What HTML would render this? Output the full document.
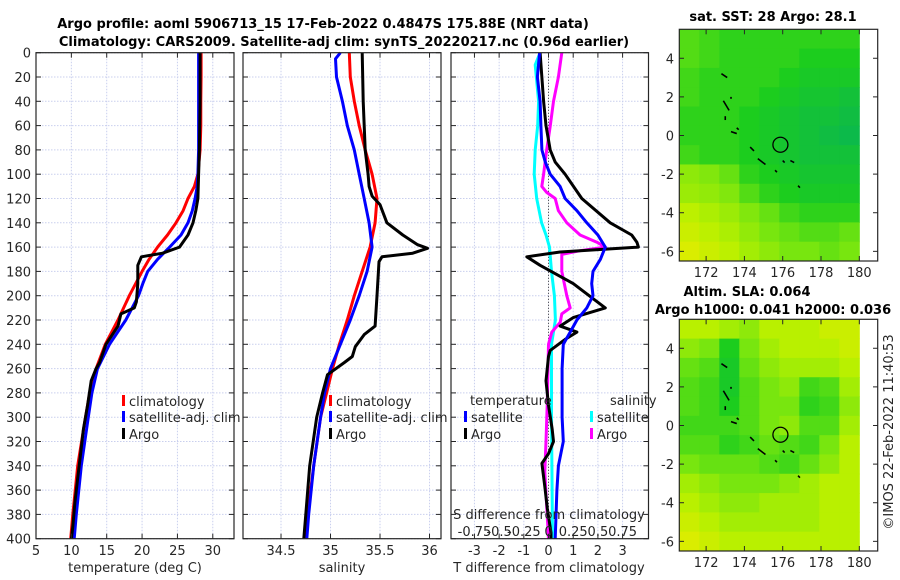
<!DOCTYPE html>
<html><head><meta charset="utf-8"><style>
body{margin:0;background:#fff;}
svg{display:block;font-family:"DejaVu Sans","Liberation Sans",sans-serif;}
text{fill:#262626;font-size:13px;}
.b{font-weight:bold;fill:#000;}
</style></head><body>
<svg id="fig" width="900" height="580" viewBox="0 0 900 580">
<text class="b" x="323" y="28" text-anchor="middle">Argo profile: aoml 5906713_15 17-Feb-2022 0.4847S 175.88E (NRT data)</text>
<text class="b" x="344" y="46" text-anchor="middle">Climatology: CARS2009. Satellite-adj clim: synTS_20220217.nc (0.96d earlier)</text>
<text class="b" x="773" y="21" text-anchor="middle">sat. SST: 28 Argo: 28.1</text>
<text class="b" x="747" y="296" text-anchor="middle">Altim. SLA: 0.064</text>
<text class="b" x="773" y="314" text-anchor="middle">Argo h1000: 0.041 h2000: 0.036</text>
<text x="893" y="432" text-anchor="middle" transform="rotate(-90 893 432)">©IMOS 22-Feb-2022 11:40:53</text>
<g id="plots"></g>
</svg>
<script>
// ---- data ----
const tClimDepth=[0,20,40,60,80,100,110,120,130,140,150,160,170,180,190,200,220,240,260,280,300,340,380,400];
const tClimVal=[28.35,28.35,28.3,28.3,28.2,27.9,27.4,26.5,25.8,24.8,23.6,22.2,21,20,19.1,18.2,16.6,14.8,13.5,12.6,12,10.9,10.2,9.9];
const tSatDepth=[0,20,40,60,80,100,110,120,130,140,150,160,170,180,190,200,220,240,260,280,300,340,380,400];
const tSatVal=[28.0,28.0,28.0,28.0,28.0,27.9,27.8,27.5,27.1,26.5,25.5,23.9,22.2,20.8,20.1,19.5,17.7,15.4,13.7,12.9,12.4,11.4,10.7,10.4];
const tArgoDepth=[0,40,80,100,120,130,140,150,160,165,168,175,190,205,210,215,225,240,255,260,270,290,310,330,350,370,390,400];
const tArgoVal=[28.2,28.2,28.1,28.0,27.9,27.6,27.2,26.5,25.3,22.9,19.9,19.4,19.4,19.2,18.9,17.0,16.6,14.9,14.0,13.5,12.8,12.3,11.7,11.3,10.9,10.5,10.2,10.0];
const sClimDepth=[0,20,40,60,80,100,120,140,160,180,200,220,240,260,280,300,340,380,400];
const sClimVal=[35.19,35.2,35.24,35.29,35.35,35.42,35.47,35.45,35.4,35.32,35.24,35.17,35.09,35.02,34.96,34.9,34.83,34.77,34.75];
const sSatDepth=[0,5,20,40,60,80,100,120,140,160,180,200,220,240,260,280,300,340,380,400];
const sSatVal=[35.1,35.05,35.06,35.12,35.17,35.24,35.29,35.34,35.39,35.42,35.37,35.29,35.2,35.1,35.0,34.94,34.9,34.83,34.78,34.76];
const sArgoDepth=[0,40,80,100,110,118,125,140,150,158,161,165,168,172,200,225,232,242,250,255,265,280,300,340,380,400];
const sArgoVal=[35.32,35.33,35.35,35.38,35.39,35.42,35.5,35.57,35.73,35.88,35.98,35.83,35.52,35.49,35.47,35.45,35.34,35.25,35.22,35.14,34.97,34.92,34.86,34.79,34.75,34.73];
const dTArgoDepth=[0,40,60,80,90,100,120,140,150,156,160,161,164,168,175,190,210,218,225,230,236,245,250,270,290,310,320,330,338,357,375,395,400];
const dTArgoVal=[-0.34,-0.2,-0.1,0.07,0.27,0.67,1.35,2.5,3.37,3.58,3.64,2.9,0.47,-0.88,-0.34,1.0,2.3,1.0,0.47,1.15,0.67,0.07,0,-0.1,0.0,0.15,0.2,0.0,-0.27,-0.15,-0.05,0.1,0.1];
const dTSatDepth=[0,20,40,60,80,90,100,110,120,130,140,150,160,170,180,190,200,210,220,230,240,260,300,320,340,360,400];
const dTSatVal=[-0.36,-0.45,-0.34,-0.31,-0.27,-0.13,0.07,0.47,0.67,1.15,1.55,2.0,2.3,2.1,1.8,1.75,1.8,1.55,1.15,0.88,0.6,0.55,0.55,0.6,0.4,0.34,0.27];
const dSSatDepth=[0,10,40,60,80,100,120,140,150,160,180,200,220,240,300,400];
const dSSatVal=[-0.085,-0.135,-0.1,-0.11,-0.135,-0.145,-0.12,-0.07,-0.025,0.01,0.03,0.06,0.07,0.03,0.03,0.04];
const dSArgoDepth=[0,20,40,60,80,100,110,115,120,130,140,150,156,160,163,166,180,200,210,215,222,230,240,290,320,345,400];
const dSArgoVal=[0.135,0.1,0.05,0.018,-0.018,-0.05,-0.068,-0.018,0.068,0.1,0.185,0.32,0.49,0.575,0.32,0.135,0.135,0.185,0.22,0.135,0.118,0.033,0,-0.013,-0.025,-0.038,0];
const depthTicks=[0,20,40,60,80,100,120,140,160,180,200,220,240,260,280,300,320,340,360,380,400];
const tTicks=[5,10,15,20,25,30];
const sTicks=[34.5,35,35.5,36];
const dTTicks=[-3,-2,-1,0,1,2,3];
const dSTickLabels=["-0.75","-0.5","-0.25","0","0.25","0.5","0.75"];
const dSTickVals=[-0.75,-0.5,-0.25,0,0.25,0.5,0.75];
const mapLats=[5,4,3,2,1,0,-1,-2,-3,-4,-5,-6];
const mapLons=[171,172,173,174,175,176,177,178,179];
const latTicks=[4,2,0,-2,-4,-6];
const lonTicks=[172,174,176,178,180];
const sstGrid=[
[.6,.55,.5,.5,.5,.5,.5,.5,.5],
[.6,.55,.5,.5,.5,.5,.45,.45,.45],
[.55,.5,.5,.5,.5,.45,.4,.4,.4],
[.55,.5,.5,.5,.45,.4,.35,.35,.3],
[.5,.5,.5,.45,.4,.35,.3,.3,.25],
[.5,.5,.5,.45,.4,.35,.3,.25,.2],
[.55,.5,.5,.45,.4,.35,.3,.3,.3],
[.75,.72,.65,.5,.45,.4,.35,.35,.35],
[.78,.76,.72,.6,.5,.45,.4,.4,.4],
[.86,.82,.78,.72,.65,.55,.5,.5,.5],
[.9,.86,.82,.76,.7,.65,.6,.6,.65],
[.95,.9,.86,.8,.75,.7,.7,.65,.7]];
const slaGrid=[
[.85,.85,.8,.75,.85,.85,.85,.9,.9],
[.75,.7,.45,.7,.8,.85,.85,.85,.9],
[.65,.6,.4,.65,.75,.8,.8,.8,.85],
[.6,.55,.4,.6,.7,.75,.55,.6,.8],
[.6,.55,.45,.6,.7,.7,.5,.55,.75],
[.55,.55,.55,.6,.7,.75,.6,.6,.8],
[.6,.6,.5,.55,.65,.6,.55,.7,.85],
[.7,.65,.65,.65,.6,.55,.65,.75,.85],
[.8,.75,.7,.7,.7,.75,.8,.85,.85],
[.85,.8,.75,.75,.8,.8,.8,.85,.85],
[.9,.85,.8,.8,.8,.8,.8,.85,.85],
[.95,.9,.85,.85,.85,.85,.85,.85,.85]];
const argoLon=175.88, argoLat=-0.48;

// ---- helpers ----
const NS="http://www.w3.org/2000/svg";
const root=document.getElementById('plots');
function mk(tag,attrs,parent){const e=document.createElementNS(NS,tag);for(const k in attrs)e.setAttribute(k,attrs[k]);(parent||root).appendChild(e);return e;}
const Y0=52.7,Y1=538.7;
const yD=d=>Y0+(d/400)*(Y1-Y0);
function lin(d0,d1,r0,r1){return v=>r0+(v-d0)/(d1-d0)*(r1-r0);}

function panel(name,x0,x1,xs,xticks){
  const g=mk('g',{});
  
  
  xticks.forEach(t=>{const l=mk('line',{x1:xs(t),x2:xs(t),y1:Y0,y2:Y1,stroke:'#c9cfee','stroke-width':1,'stroke-dasharray':'1.5,1.5'},g);
    });
  depthTicks.forEach(d=>{const l=mk('line',{x1:x0,x2:x1,y1:yD(d),y2:yD(d),stroke:'#c9cfee','stroke-width':1,'stroke-dasharray':'1.5,1.5'},g);
    });
  return g;
}
function frame(g,x0,x1,xs,xticks,xlabels,yLabels){
  const r=mk('rect',{x:x0,y:Y0,width:x1-x0,height:Y1-Y0,fill:'none',stroke:'#262626','stroke-width':1.2},g);
  
  depthTicks.forEach(d=>{
    mk('line',{x1:x0,x2:x0+5,y1:yD(d),y2:yD(d),stroke:'#262626'},g);
    mk('line',{x1:x1,x2:x1-5,y1:yD(d),y2:yD(d),stroke:'#262626'},g);
    if(yLabels){const t=mk('text',{x:x0-5,y:yD(d)+5,'text-anchor':'end'},g);t.textContent=d;
      }
  });
  xticks.forEach((v,i)=>{
    mk('line',{x1:xs(v),x2:xs(v),y1:Y1,y2:Y1-5,stroke:'#262626'},g);
    mk('line',{x1:xs(v),x2:xs(v),y1:Y0,y2:Y0+5,stroke:'#262626'},g);
    const t=mk('text',{x:xs(v),y:555,'text-anchor':'middle'},g);t.textContent=xlabels[i];
    
  });
}
function series(g,name,depths,vals,xs,color){
  const p=mk('polyline',{points:depths.map((d,i)=>xs(vals[i]).toFixed(1)+','+yD(d).toFixed(1)).join(' '),fill:'none',stroke:color,'stroke-width':3,'stroke-linejoin':'round'},g);
  
  
}
function legend(g,x,y,color,label,name){
  mk('rect',{x:x,y:y-6,width:3,height:11,fill:color},g);
  const t=mk('text',{x:x+7,y:y+5},g);t.textContent=label;
  
  
}
function axisTitle(g,x,label,name){
  const t=mk('text',{x:x,y:572,'text-anchor':'middle'},g);t.textContent=label;
  
  
}

// ---- panel 1: temperature ----
const xT=lin(5,33,36,234);
const g1=panel('temperature-panel',36,234,xT,tTicks);
series(g1,'temp-climatology-line',tClimDepth,tClimVal,xT,'#ff0000');
series(g1,'temp-satellite-line',tSatDepth,tSatVal,xT,'#0000ff');
series(g1,'temp-argo-line',tArgoDepth,tArgoVal,xT,'#000000');
frame(g1,36,234,xT,tTicks,tTicks.map(String),true);
axisTitle(g1,135,'temperature (deg C)','temperature-axis-title');
legend(g1,122,401,'#ff0000','climatology','legend-climatology');
legend(g1,122,417,'#0000ff','satellite-adj. clim','legend-satellite');
legend(g1,122,434,'#000000','Argo','legend-argo');

// ---- panel 2: salinity ----
const xS=lin(34.116,36.116,243,441);
const g2=panel('salinity-panel',243,441,xS,sTicks);
series(g2,'sal-climatology-line',sClimDepth,sClimVal,xS,'#ff0000');
series(g2,'sal-satellite-line',sSatDepth,sSatVal,xS,'#0000ff');
series(g2,'sal-argo-line',sArgoDepth,sArgoVal,xS,'#000000');
frame(g2,243,441,xS,sTicks,sTicks.map(String),false);
axisTitle(g2,342,'salinity','salinity-axis-title');
legend(g2,329,401,'#ff0000','climatology','legend-climatology-sal');
legend(g2,329,417,'#0000ff','satellite-adj. clim','legend-satellite-sal');
legend(g2,329,434,'#000000','Argo','legend-argo-sal');

// ---- panel 3: differences ----
const xD=lin(-3.95,4.05,451,648.5);
const xDS=v=>xD(v*4);
const g3=panel('difference-panel',451,648.5,xD,dTTicks);
const z=mk('line',{x1:xD(0),x2:xD(0),y1:Y0,y2:Y1,stroke:'#333','stroke-width':1,'stroke-dasharray':'1,2'},g3);

series(g3,'dS-satellite-line',dSSatDepth,dSSatVal,xDS,'#00ffff');
series(g3,'dS-argo-line',dSArgoDepth,dSArgoVal,xDS,'#ff00ff');
series(g3,'dT-argo-line',dTArgoDepth,dTArgoVal,xD,'#000000');
series(g3,'dT-satellite-line',dTSatDepth,dTSatVal,xD,'#0000ff');
frame(g3,451,648.5,xD,dTTicks,dTTicks.map(String),false);
axisTitle(g3,549,'T difference from climatology','dT-axis-title');
{const t=mk('text',{x:549,y:519,'text-anchor':'middle'},g3);t.textContent='S difference from climatology';
}
dSTickVals.forEach((v,i)=>{const t=mk('text',{x:xDS(v),y:536,'text-anchor':'middle'},g3);t.textContent=dSTickLabels[i];
  });
{const t=mk('text',{x:470,y:405},g3);t.textContent='temperature';}
{const t=mk('text',{x:610,y:405},g3);t.textContent='salinity';}
legend(g3,464,417,'#0000ff','satellite','legend-dT-satellite');
legend(g3,464,434,'#000000','Argo','legend-dT-argo');
legend(g3,590,417,'#00ffff','satellite','legend-dS-satellite');
legend(g3,590,434,'#ff00ff','Argo','legend-dS-argo');

// ---- maps ----
function col(v){
  const stops=[[0,[0,170,110]],[0.45,[28,205,30]],[0.7,[120,230,15]],[0.85,[185,240,0]],[1,[235,235,0]]];
  for(let i=1;i<stops.length;i++){if(v<=stops[i][0]){const a=stops[i-1],b=stops[i],f=(v-a[0])/(b[0]-a[0]);
    return 'rgb('+a[1].map((c,k)=>Math.round(c+(b[1][k]-c)*f)).join(',')+')';}}
  return 'rgb(235,235,0)';
}
function map(name,top,bottom,grid){
  const lonX=lin(170.6,180.96,679.3,877.7);
  const latY=lin(5.5,-6.5,top,bottom);
  const g=mk('g',{});
  
  
  const cw=(lonX(180)-lonX(170.6))/mapLons.length;
  mapLats.forEach((la,r)=>mapLons.forEach((lo,c)=>{
    const cell=mk('rect',{x:(lonX(170.6)+c*cw).toFixed(2),y:latY(la+0.5).toFixed(2),width:(cw+0.5).toFixed(2),height:(latY(la-0.5)-latY(la+0.5)+0.5).toFixed(2),fill:col(grid[r][c])},g);
    
    
  }));
  const isl=[[172.8,3.2,173.1,3.0],[172.9,1.8,173.2,1.3],[173.0,1.0,173.0,0.8],[173.3,0.2,173.6,0.1],[173.6,0.4,173.7,0.3],[174.3,-0.6,174.5,-0.8],[174.7,-1.2,175.1,-1.5],[175.6,-1.8,175.7,-1.9],[176.0,-1.3,176.1,-1.4],[176.4,-1.3,176.6,-1.4],[176.8,-2.6,176.9,-2.7],[173.3,2.0,173.3,1.9]];
  isl.forEach(s=>{const l=mk('line',{x1:lonX(s[0]),y1:latY(s[1]),x2:lonX(s[2]),y2:latY(s[3]),stroke:'#000','stroke-width':1.6},g);
    });
  const c=mk('circle',{cx:lonX(argoLon),cy:latY(argoLat),r:7.5,fill:'none',stroke:'#000','stroke-width':1.3},g);
  
  const f=mk('rect',{x:679.3,y:top,width:198.4,height:bottom-top,fill:'none',stroke:'#262626','stroke-width':1.2},g);
  
  latTicks.forEach(t=>{
    mk('line',{x1:679.3,x2:684,y1:latY(t),y2:latY(t),stroke:'#262626'},g);
    mk('line',{x1:877.7,x2:873,y1:latY(t),y2:latY(t),stroke:'#262626'},g);
    const tx=mk('text',{x:674,y:latY(t)+5,'text-anchor':'end'},g);tx.textContent=t;
    
  });
  lonTicks.forEach(t=>{
    mk('line',{x1:lonX(t),x2:lonX(t),y1:bottom,y2:bottom-5,stroke:'#262626'},g);
    mk('line',{x1:lonX(t),x2:lonX(t),y1:top,y2:top+5,stroke:'#262626'},g);
    const tx=mk('text',{x:lonX(t),y:bottom+16,'text-anchor':'middle'},g);tx.textContent=t;
    
  });
}
map('sst-map',29.3,261,sstGrid);
map('sla-map',319.3,551,slaGrid);
</script>
</body></html>
